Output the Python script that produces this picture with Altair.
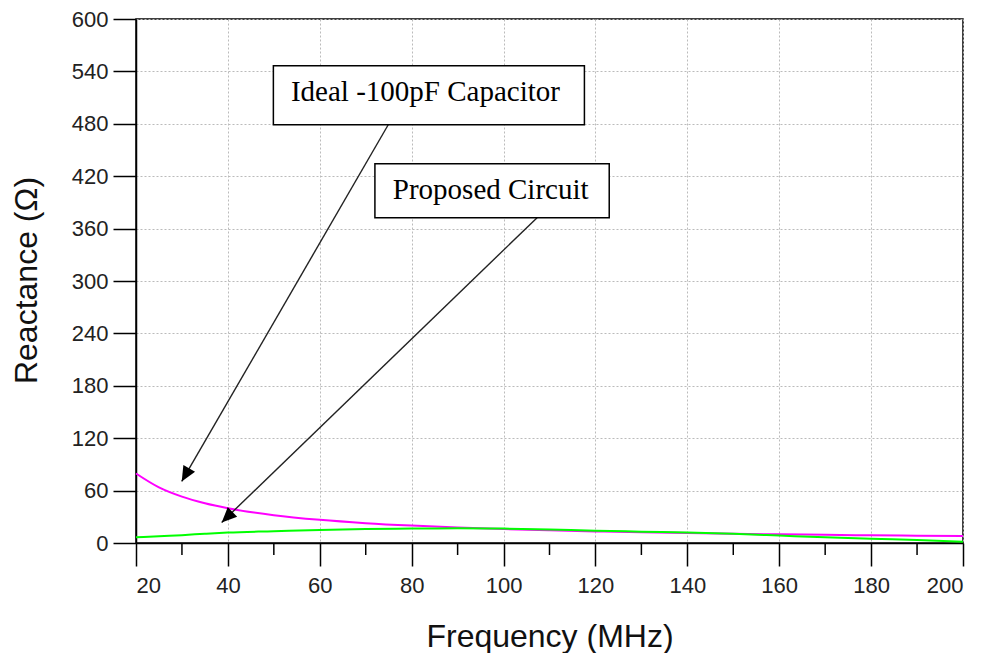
import altair as alt
import pandas as pd

# ---- data ----
freq = [20, 25, 30, 35, 40, 50, 60, 70, 80, 90, 100, 110, 120, 130, 140, 150, 160, 170, 180, 190, 200]
ideal_cap = [79.6, 63.7, 53.1, 45.5, 39.8, 31.8, 26.5, 22.7, 19.9, 17.7, 15.9, 14.5, 13.3, 12.2, 11.4,
             10.6, 9.9, 9.4, 8.8, 8.4, 8.0]
proposed = [6.5, 7.8, 9.0, 10.6, 12.0, 13.5, 15.0, 16.0, 16.5, 17.0, 16.5, 15.5, 14.0, 13.0, 12.0,
            10.5, 8.5, 6.5, 4.8, 3.5, 1.5]
series_names = ["Ideal -100pF Capacitor", "Proposed Circuit"]
series_colors = ["#ff00ff", "#00ff00"]

x_major = [20, 40, 60, 80, 100, 120, 140, 160, 180, 200]
x_minor = [30, 50, 70, 90, 110, 130, 150, 170, 190]
y_major = [0, 60, 120, 180, 240, 300, 360, 420, 480, 540, 600]

# annotation boxes (data units)
box_labels = ["Ideal -100pF Capacitor", "Proposed Circuit"]
box_x1 = [49.9, 72.0]
box_x2 = [117.6, 123.0]
box_y1 = [479.0, 372.5]
box_y2 = [546.5, 434.3]
text_x = [83.0, 97.2]
text_y = [505.6, 393.9]
# arrows (data units)
arr_x1 = [74.9, 107.3]
arr_y1 = [478.9, 372.5]
arr_x2 = [29.95, 38.65]
arr_y2 = [70.5, 23.6]
arr_angle = [210, 226]

W, H = 827, 524

rows = []
for f, a, b in zip(freq, ideal_cap, proposed):
    rows.append({"freq": f, "value": a, "series": series_names[0]})
    rows.append({"freq": f, "value": b, "series": series_names[1]})
df = pd.DataFrame(rows)

xscale = alt.Scale(domain=[20, 200], nice=False, zero=False)
yscale = alt.Scale(domain=[0, 600], nice=False)

x_axis = alt.Axis(values=x_major, title="Frequency (MHz)", tickSize=23, labelPadding=9,
                  titleBaseline="alphabetic", titleY=103, grid=True)
y_axis = alt.Axis(values=y_major, title="Reactance (Ω)", tickSize=23, labelPadding=5,
                  titleBaseline="alphabetic", titleX=-100, titleY=H / 2 - 1, grid=True)

lines = alt.Chart(df).mark_line(strokeWidth=2, interpolate="monotone").encode(
    x=alt.X("freq:Q", scale=xscale, axis=x_axis),
    y=alt.Y("value:Q", scale=yscale, axis=y_axis),
    color=alt.Color("series:N", scale=alt.Scale(domain=series_names, range=series_colors), legend=None),
)

minor = alt.Chart(pd.DataFrame({"t": x_minor})).mark_rule(color="black", strokeWidth=1.5).encode(
    x=alt.X("t:Q", scale=xscale),
    y=alt.value(H),
    y2=alt.value(H + 12),
)

adf = pd.DataFrame({"x1": arr_x1, "y1": arr_y1, "x2": arr_x2, "y2": arr_y2, "ang": arr_angle})
arrows = alt.Chart(adf).mark_rule(color="#222222", strokeWidth=1.4).encode(
    x=alt.X("x1:Q", scale=xscale), y=alt.Y("y1:Q", scale=yscale),
    x2="x2:Q", y2="y2:Q",
)
heads = alt.Chart(adf).mark_point(
    shape="M0,0 L-0.45,1 L0.45,1 Z", filled=True, color="black", opacity=1, size=900
).encode(
    x=alt.X("x2:Q", scale=xscale), y=alt.Y("y2:Q", scale=yscale),
    angle=alt.Angle("ang:Q", scale=None),
)

bdf = pd.DataFrame({"label": box_labels, "bx1": box_x1, "bx2": box_x2, "by1": box_y1,
                    "by2": box_y2, "tx": text_x, "ty": text_y})
boxes = alt.Chart(bdf).mark_rect(fill="white", stroke="black", strokeWidth=1.5).encode(
    x=alt.X("bx1:Q", scale=xscale), x2="bx2:Q",
    y=alt.Y("by1:Q", scale=yscale), y2="by2:Q",
)
texts = alt.Chart(bdf).mark_text(font="Liberation Serif", fontSize=29, color="black",
                                 baseline="alphabetic", align="center").encode(
    x=alt.X("tx:Q", scale=xscale), y=alt.Y("ty:Q", scale=yscale), text="label:N",
)

chart = alt.layer(lines, minor, arrows, heads, boxes, texts).properties(
    width=W, height=H,
    autosize="none",
    padding={"left": 128, "top": 11, "right": 18, "bottom": 110},
).configure_view(stroke="black", strokeWidth=1.5).configure_axis(
    labelFont="Liberation Sans", labelFontSize=22, labelColor="#222222",
    titleFont="Liberation Sans", titleFontSize=32, titleFontWeight="normal", titleColor="#111111",
    domainColor="black", domainWidth=1.5, tickColor="black", tickWidth=1.5,
    gridColor="#bbbbbb", gridDash=[2, 2], gridWidth=1,
)

chart.save("out.html", embed_options={"renderer": "svg", "actions": False})
